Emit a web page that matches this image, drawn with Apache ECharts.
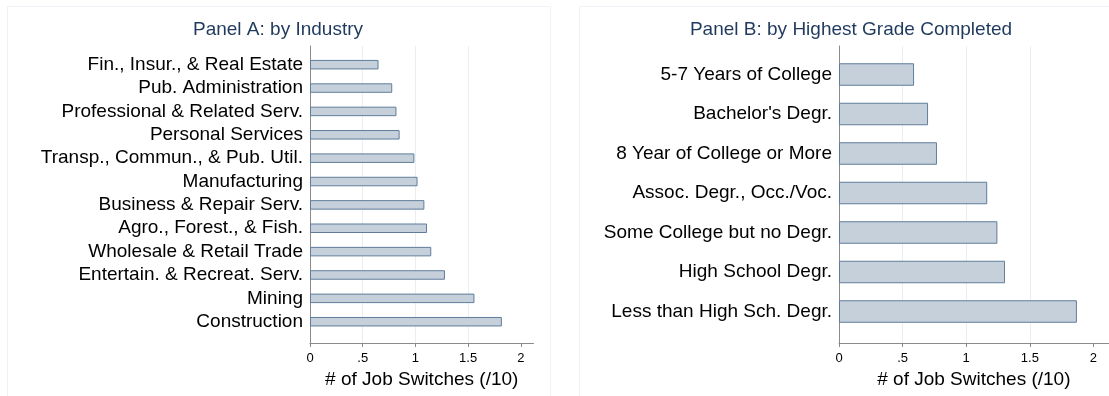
<!DOCTYPE html>
<html>
<head>
<meta charset="utf-8">
<script src="https://cdn.jsdelivr.net/npm/echarts@6/dist/echarts.min.js"></script>
<style>
html,body{margin:0;padding:0;background:#fff;}
#chart{width:1109px;height:396px;}
</style>
</head>
<body>
<div id="chart"></div>
<script>
// ---- data ----
const industryCategories = [
  'Fin., Insur., & Real Estate',
  'Pub. Administration',
  'Professional & Related Serv.',
  'Personal Services',
  'Transp., Commun., & Pub. Util.',
  'Manufacturing',
  'Business & Repair Serv.',
  'Agro., Forest., & Fish.',
  'Wholesale & Retail Trade',
  'Entertain. & Recreat. Serv.',
  'Mining',
  'Construction'
];
const industryValues = [0.65, 0.78, 0.82, 0.85, 0.99, 1.02, 1.085, 1.11, 1.15, 1.28, 1.56, 1.82];

const gradeCategories = [
  '5-7 Years of College',
  "Bachelor's Degr.",
  '8 Year of College or More',
  'Assoc. Degr., Occ./Voc.',
  'Some College but no Degr.',
  'High School Degr.',
  'Less than High Sch. Degr.'
];
const gradeValues = [0.59, 0.70, 0.77, 1.165, 1.245, 1.305, 1.87];

const tickValues = [0, 0.5, 1, 1.5, 2];
const tickLabels = ['0', '.5', '1', '1.5', '2'];

const panelTitles = ['Panel A: by Industry', 'Panel B: by Highest Grade Completed'];
const axisTitle = '# of Job Switches (/10)';

// ---- styles ----
const FONT = 'Liberation Sans, Arial, sans-serif';
const AXIS_MAX = 2.12;
const axisGray = '#8a8a8a';
const gridColor = '#e8eff3';
const barFill = '#c6d0db';
const barBorder = '#5f7d9b';

function fmtTick(v) {
  for (let i = 0; i < tickValues.length; i++) {
    if (Math.abs(tickValues[i] - v) < 1e-9) return tickLabels[i];
  }
  return '';
}

function axisX(gridIndex) {
  return {
    type: 'value', gridIndex: gridIndex, min: 0, max: AXIS_MAX, interval: 0.5,
    axisLine: {show: true, lineStyle: {color: axisGray, width: 1}},
    axisTick: {show: true, length: 4, lineStyle: {color: axisGray}, customValues: tickValues},
    axisLabel: {show: true, margin: 9, fontSize: 13, color: '#000', fontFamily: FONT,
      formatter: fmtTick, customValues: tickValues},
    splitLine: {show: true, showMinLine: false, showMaxLine: false, lineStyle: {color: gridColor, width: 1}},
    name: axisTitle, nameLocation: 'middle', nameGap: 20,
    nameTextStyle: {fontSize: 19, color: '#000', fontFamily: FONT}
  };
}
function axisY(gridIndex) {
  return {
    type: 'value', gridIndex: gridIndex, min: 0, max: 1,
    axisLine: {show: true, lineStyle: {color: axisGray, width: 1}},
    axisTick: {show: false}, axisLabel: {show: false}, splitLine: {show: false}
  };
}
function barX(gridIndex) {
  return {type: 'value', gridIndex: gridIndex, min: 0, max: AXIS_MAX, show: false};
}
function barY(gridIndex, cats) {
  return {
    type: 'category', gridIndex: gridIndex, data: cats, inverse: true,
    axisLine: {show: false}, axisTick: {show: false},
    axisLabel: {interval: 0, hideOverlap: false, margin: 7, fontSize: 19, color: '#000', fontFamily: FONT},
    splitLine: {show: false}
  };
}

const chart = echarts.init(document.getElementById('chart'), null, {renderer: 'canvas'});
chart.setOption({
  animation: false,
  backgroundColor: '#fff',
  graphic: [
    {type: 'rect', shape: {x: 7.5, y: 6.5, width: 543, height: 400}, style: {fill: 'none', stroke: '#eef2f6', lineWidth: 1}, silent: true},
    {type: 'rect', shape: {x: 579.5, y: 6.5, width: 540, height: 400}, style: {fill: 'none', stroke: '#eef2f6', lineWidth: 1}, silent: true}
  ],
  title: [
    {text: panelTitles[0], left: 278, top: 20, textAlign: 'center', padding: 0,
      textStyle: {fontSize: 19, fontWeight: 'normal', color: '#1f3a5c', fontFamily: FONT}},
    {text: panelTitles[1], left: 851, top: 20, textAlign: 'center', padding: 0,
      textStyle: {fontSize: 19, fontWeight: 'normal', color: '#1f3a5c', fontFamily: FONT}}
  ],
  grid: [
    {left: 310, top: 46, width: 223.5, height: 297},
    {left: 310, top: 53, width: 223.5, height: 280.4},
    {left: 839, top: 46, width: 269.7, height: 297},
    {left: 839, top: 54.75, width: 269.7, height: 276.5}
  ],
  xAxis: [axisX(0), barX(1), axisX(2), barX(3)],
  yAxis: [axisY(0), barY(1, industryCategories), axisY(2), barY(3, gradeCategories)],
  series: [
    {type: 'bar', xAxisIndex: 1, yAxisIndex: 1, data: industryValues, barWidth: 9.5,
      itemStyle: {color: barFill, borderColor: barBorder, borderWidth: 1}, z: 3},
    {type: 'bar', xAxisIndex: 3, yAxisIndex: 3, data: gradeValues, barWidth: 22.5,
      itemStyle: {color: barFill, borderColor: barBorder, borderWidth: 1}, z: 3}
  ]
});
</script>
</body>
</html>
